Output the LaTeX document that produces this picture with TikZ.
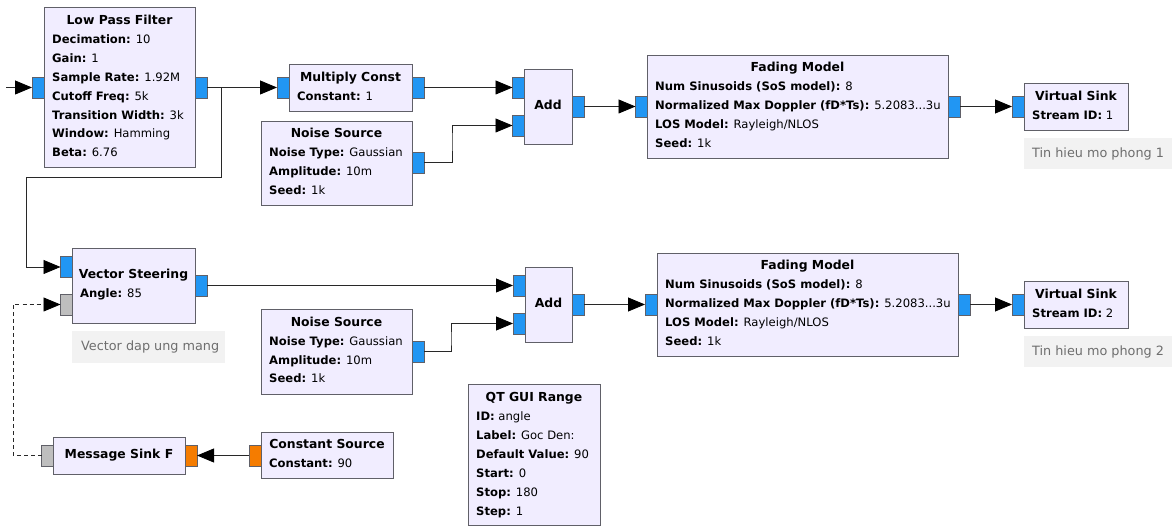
\documentclass[tikz,border=0pt]{standalone}
\usepackage{fontspec}
\setmainfont{DejaVu Sans}
\usetikzlibrary{calc,arrows.meta}
\definecolor{blkfill}{RGB}{241,237,255}
\definecolor{blkline}{RGB}{96,96,104}
\definecolor{portblue}{RGB}{33,150,243}
\definecolor{portgrey}{RGB}{190,190,190}
\definecolor{portorange}{RGB}{245,124,0}
\definecolor{wirecol}{RGB}{40,40,40}
\definecolor{cmtbg}{RGB}{242,242,242}
\definecolor{cmttext}{RGB}{110,110,110}
\tikzset{
  blockbox/.style={draw=blkline, fill=blkfill, line width=0.9pt, inner sep=0pt, outer sep=0pt, anchor=north west},
  titletext/.style={inner sep=0pt, anchor=base, font=\fontsize{12.4}{19}\selectfont\bfseries},
  paramtext/.style={inner sep=0pt, anchor=base west, font=\fontsize{11.6}{19}\selectfont},
  portbox/.style={draw=blkline, line width=0.8pt, minimum width=12, minimum height=21, inner sep=0pt, outer sep=0pt},
  bport/.style={portbox, fill=portblue},
  gport/.style={portbox, fill=portgrey},
  oport/.style={portbox, fill=portorange},
  wire/.style={draw=wirecol, line width=0.8pt, -{Triangle[length=17pt,width=14pt,color=black]}},
  msgwire/.style={wire, dash pattern=on 4pt off 3pt},
  cmtbox/.style={fill=cmtbg, inner sep=0pt, anchor=north west},
  cmttxt/.style={inner sep=0pt, anchor=west, text=cmttext, font=\fontsize{12.8}{19}\selectfont},
}
% block: name, x, y, w, h
\newcommand{\grcblk}[5]{\node[blockbox, minimum width=#4, minimum height=#5] (#1) at (#2,#3) {};}
% param line: block name, index, dy(baseline from top), key, value
\newcommand{\grcprm}[5]{\node[paramtext] (#1-p#2) at ($(#1.north west)+(8,#3)$) {\textbf{#4:} #5};}
\newcommand{\grcttl}[3]{\node[titletext] (#1-t) at ($(#1.north)+(0,#2)$) {#3};}
\begin{document}
\begin{tikzpicture}[x=1pt,y=-1pt]
\useasboundingbox (0,0) rectangle (1176,526);

% ---------- Low Pass Filter
\grcblk{lpf}{44}{7}{151}{160}
\grcttl{lpf}{17.5}{Low Pass Filter}
\grcprm{lpf}{1}{36.5}{Decimation}{10}
\grcprm{lpf}{2}{55.5}{Gain}{1}
\grcprm{lpf}{3}{74.5}{Sample Rate}{1.92M}
\grcprm{lpf}{4}{93.5}{Cutoff Freq}{5k}
\grcprm{lpf}{5}{112.5}{Transition Width}{3k}
\grcprm{lpf}{6}{131}{Window}{Hamming}
\grcprm{lpf}{7}{150}{Beta}{6.76}
\node[bport] (lpf-in) at (38,87.5) {};
\node[bport] (lpf-out) at (201,87.5) {};

% ---------- Multiply Const
\grcblk{mc}{289}{64}{123}{47}
\grcttl{mc}{17.5}{Multiply Const}
\grcprm{mc}{1}{36.5}{Constant}{1}
\node[bport] (mc-in) at (283,87.5) {};
\node[bport] (mc-out) at (418,87.5) {};

% ---------- Noise Source 1
\grcblk{nsa}{261}{121}{151}{84}
\grcttl{nsa}{16.5}{Noise Source}
\grcprm{nsa}{1}{35.5}{Noise Type}{Gaussian}
\grcprm{nsa}{2}{54.5}{Amplitude}{10m}
\grcprm{nsa}{3}{73.5}{Seed}{1k}
\node[bport] (nsa-out) at (418,162.5) {};

% ---------- Add 1
\grcblk{adda}{524}{69}{48}{75}
\grcttl{adda}{40.5}{Add}
\node[bport] (adda-in1) at (518.5,87.5) {};
\node[bport] (adda-in2) at (518.5,125.5) {};
\node[bport] (adda-out) at (578,106.5) {};

% ---------- Fading Model 1
\grcblk{fma}{647}{55}{301}{103}
\grcttl{fma}{17}{Fading Model}
\grcprm{fma}{1}{36}{Num Sinusoids (SoS model)}{8}
\grcprm{fma}{2}{55}{Normalized Max Doppler (fD*Ts)}{5.2083...3u}
\grcprm{fma}{3}{74}{LOS Model}{Rayleigh/NLOS}
\grcprm{fma}{4}{93}{Seed}{1k}
\node[bport] (fma-in) at (641.5,106.5) {};
\node[bport] (fma-out) at (954,106.5) {};

% ---------- Virtual Sink 1
\grcblk{vsa}{1024}{83}{104}{47}
\grcttl{vsa}{17.5}{Virtual Sink}
\grcprm{vsa}{1}{36.5}{Stream ID}{1}
\node[bport] (vsa-in) at (1018,106.5) {};
\node[cmtbox, minimum width=148, minimum height=31] (cma) at (1024,138) {};
\node[cmttxt] (cma-t) at ($(cma.west)+(8,0)$) {Tin hieu mo phong 1};

% ---------- Vector Steering
\grcblk{vst}{72}{248}{123}{75}
\grcttl{vst}{30.5}{Vector Steering}
\grcprm{vst}{1}{49.5}{Angle}{85}
\node[bport] (vst-in1) at (66.5,267) {};
\node[gport] (vst-in2) at (66.5,304.5) {};
\node[bport] (vst-out) at (201,285.5) {};
\node[cmtbox, minimum width=153, minimum height=32] (cmv) at (72,331) {};
\node[cmttxt] (cmv-t) at ($(cmv.west)+(9,0)$) {Vector dap ung mang};

% ---------- Noise Source 2
\grcblk{nsb}{261}{309}{151}{85}
\grcttl{nsb}{17.5}{Noise Source}
\grcprm{nsb}{1}{36.5}{Noise Type}{Gaussian}
\grcprm{nsb}{2}{55.5}{Amplitude}{10m}
\grcprm{nsb}{3}{74}{Seed}{1k}
\node[bport] (nsb-out) at (418,351.5) {};

% ---------- Add 2
\grcblk{addb}{525}{267}{47}{75}
\grcttl{addb}{40.5}{Add}
\node[bport] (addb-in1) at (519,285.5) {};
\node[bport] (addb-in2) at (519,323.5) {};
\node[bport] (addb-out) at (578,304.5) {};

% ---------- Fading Model 2
\grcblk{fmb}{657}{253}{301}{103}
\grcttl{fmb}{17}{Fading Model}
\grcprm{fmb}{1}{36}{Num Sinusoids (SoS model)}{8}
\grcprm{fmb}{2}{55}{Normalized Max Doppler (fD*Ts)}{5.2083...3u}
\grcprm{fmb}{3}{74}{LOS Model}{Rayleigh/NLOS}
\grcprm{fmb}{4}{93}{Seed}{1k}
\node[bport] (fmb-in) at (651,304.5) {};
\node[bport] (fmb-out) at (964,304.5) {};

% ---------- Virtual Sink 2
\grcblk{vsb}{1024}{281}{104}{47}
\grcttl{vsb}{17.5}{Virtual Sink}
\grcprm{vsb}{1}{36.5}{Stream ID}{2}
\node[bport] (vsb-in) at (1018,304.5) {};
\node[cmtbox, minimum width=148, minimum height=31] (cmb) at (1024,336) {};
\node[cmttxt] (cmb-t) at ($(cmb.west)+(8,0)$) {Tin hieu mo phong 2};

% ---------- Message Sink F
\grcblk{msf}{53}{437}{132}{37}
\grcttl{msf}{22}{Message Sink F}
\node[gport] (msf-in) at (47.5,455.5) {};
\node[oport] (msf-out) at (191,455.5) {};

% ---------- Constant Source
\grcblk{cs}{261}{432}{132}{46}
\grcttl{cs}{16.5}{Constant Source}
\grcprm{cs}{1}{35.5}{Constant}{90}
\node[oport] (cs-out) at (255,455.5) {};

% ---------- QT GUI Range
\grcblk{qt}{468}{384}{132}{141}
\grcttl{qt}{17.5}{QT GUI Range}
\grcprm{qt}{1}{36.5}{ID}{angle}
\grcprm{qt}{2}{55.5}{Label}{Goc Den:}
\grcprm{qt}{3}{74.5}{Default Value}{90}
\grcprm{qt}{4}{93.5}{Start}{0}
\grcprm{qt}{5}{112.5}{Stop}{180}
\grcprm{qt}{6}{131.5}{Step}{1}

% ---------- connections
\coordinate (src) at (6,87.5);
\coordinate (bra) at (221,177);
\coordinate (brb) at (26,177);
\coordinate (nca) at (452,140);
\coordinate (ncb) at (451,340);
\coordinate (msc) at (13,380);

\draw[wire] (src) -- (lpf-in.west);
\draw[wire] (lpf-out.east) -- (mc-in.west);
\draw[wire] (lpf-out.east) -| (bra) -- (brb) |- (vst-in1.west);
\draw[wire] (mc-out.east) -- (adda-in1.west);
\draw[wire] (nsa-out.east) -| (nca) |- (adda-in2.west);
\draw[wire] (adda-out.east) -- (fma-in.west);
\draw[wire] (fma-out.east) -- (vsa-in.west);
\draw[wire] (vst-out.east) -- (addb-in1.west);
\draw[wire] (nsb-out.east) -| (ncb) |- (addb-in2.west);
\draw[wire] (addb-out.east) -- (fmb-in.west);
\draw[wire] (fmb-out.east) -- (vsb-in.west);
\draw[wire] (cs-out.west) -- (msf-out.east);
\draw[msgwire] (msf-in.west) -| (msc) |- (vst-in2.west);
\end{tikzpicture}
\end{document}
